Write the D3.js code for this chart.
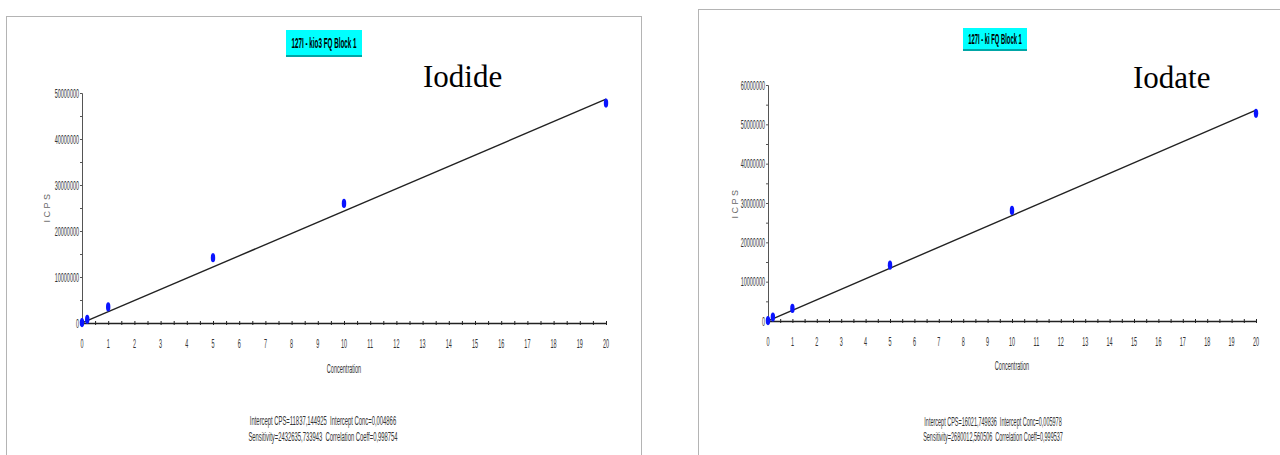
<!DOCTYPE html>
<html>
<head>
<meta charset="utf-8">
<script src="https://cdn.jsdelivr.net/npm/d3@7/dist/d3.min.js"></script>
<style>
  html, body { margin: 0; padding: 0; background: #fff; }
  svg { display: block; }
  text { white-space: pre; }
</style>
</head>
<body>
<svg id="chart" width="1280" height="455"></svg>
<script>
// Calibration data.
const concIodide = [0, 0.2, 1, 5, 10, 20];
const cpsIodide = [0.1e6, 0.8e6, 3.5e6, 14.2e6, 26.0e6, 47.8e6];
const fitIodide = [11837.144925, 2432635.733943]; // intercept, sensitivity

const concIodate = [0, 0.2, 1, 5, 10, 20];
const cpsIodate = [0.1e6, 1.0e6, 3.2e6, 14.2e6, 28.1e6, 52.8e6];
const fitIodate = [16021.749836, 2680012.560506];

const xTickLabels = d3.range(0, 21);
const yTicksIodide = [0, 10000000, 20000000, 30000000, 40000000, 50000000];
const yTicksIodate = [0, 10000000, 20000000, 30000000, 40000000, 50000000, 60000000];

const statsIodide = ["Intercept CPS=11837,144925  Intercept Conc=0,004866",
                     "Sensitivity=2432635,733943  Correlation Coeff=0,998754"];
const statsIodate = ["Intercept CPS=16021,749836  Intercept Conc=0,005978",
                     "Sensitivity=2680012,560506  Correlation Coeff=0,999537"];

const svg = d3.select("#chart");
const SANS = "'Liberation Sans', Arial, sans-serif";
const INK = "#333";

// squeezed text, the instrument software uses a very narrow font
function narrow(g, x, y, text, { size = 13, sx = 0.43, anchor = "middle", weight = 400, fill = INK } = {}) {
  return g.append("text")
    .attr("transform", `translate(${x},${y}) scale(${sx},1)`)
    .attr("text-anchor", anchor).attr("dominant-baseline", "central")
    .attr("font-family", SANS).attr("font-size", size).attr("font-weight", weight)
    .attr("fill", fill).text(text);
}

function panel(cfg) {
  const g = svg.append("g");
  g.append("rect")
    .attr("x", cfg.frame[0] + 0.5).attr("y", cfg.frame[1] + 0.5)
    .attr("width", cfg.frame[2]).attr("height", 500)
    .attr("fill", "#fff").attr("stroke", "#b4b4b4");

  // cyan title button
  const [bx, by, bw, bh] = cfg.box;
  g.append("rect").attr("x", bx).attr("y", by).attr("width", bw).attr("height", bh)
    .attr("fill", "#00ffff");
  g.append("rect").attr("x", bx).attr("y", by + bh - 2).attr("width", bw).attr("height", 2)
    .attr("fill", "#00a6a6");
  narrow(g, bx + bw / 2, by + bh / 2 - 1, cfg.title, { size: 15, sx: cfg.titleSx, weight: 700, fill: "#000" });

  g.append("text").attr("x", cfg.big[0]).attr("y", cfg.big[1])
    .attr("font-family", "'Liberation Serif', 'Times New Roman', serif")
    .attr("font-size", 31).attr("fill", "#000").text(cfg.label);

  const x = d3.scaleLinear().domain([0, 20]).range(cfg.xr);
  const y = d3.scaleLinear().domain([0, cfg.yTicks[cfg.yTicks.length - 1]]).range(cfg.yr);

  // y axis
  const gy = g.append("g").attr("transform", `translate(${cfg.xr[0]},0)`);
  gy.call(d3.axisLeft(y).tickValues(d3.range(0, y.domain()[1] + 1, 5000000))
    .tickSize(2).tickFormat(() => ""));
  gy.select(".domain").attr("stroke", "#555");
  gy.selectAll(".tick line").attr("stroke", "#555");
  cfg.yTicks.forEach(v => narrow(gy, -3, y(v), String(v), { anchor: "end", sx: 0.42 }));

  // x axis, minor ticks every 0.5
  const gx = g.append("g").attr("transform", `translate(0,${cfg.yr[0]})`);
  gx.call(d3.axisBottom(x).tickValues(d3.range(0, 20.01, 0.5)).tickSize(0).tickFormat(() => ""));
  gx.select(".domain").attr("stroke", "#222").attr("stroke-width", 1.6);
  gx.selectAll(".tick line").attr("y1", -2).attr("y2", 2).attr("stroke", "#222");
  xTickLabels.forEach(v => narrow(gx, x(v), 20, String(v), { sx: 0.42 }));

  narrow(g, cfg.xTitle[0], cfg.xTitle[1], "Concentration", { size: 12, sx: 0.46 });
  g.append("text")
    .attr("transform", `translate(${cfg.yTitle[0]},${cfg.yTitle[1]}) rotate(-90)`)
    .attr("text-anchor", "middle").attr("dominant-baseline", "central")
    .attr("font-family", SANS).attr("font-size", 9).attr("letter-spacing", 2.5)
    .attr("fill", "#666").text("ICPS");

  // regression line
  const [b0, b1] = cfg.fit;
  g.append("path")
    .attr("d", d3.line().x(d => x(d)).y(d => y(b0 + b1 * d))([0, 20]))
    .attr("stroke", "#222").attr("stroke-width", 1.4).attr("fill", "none");

  g.selectAll("ellipse.pt").data(cfg.conc).join("ellipse")
    .attr("cx", d => x(d)).attr("cy", (d, i) => y(cfg.cps[i]))
    .attr("rx", 2.2).attr("ry", 4.6).attr("fill", "#0a14ff");

  cfg.stats.forEach((s, i) => narrow(g, cfg.statsAt[0], cfg.statsAt[1] + i * 15.5, s,
    { size: 12.5, sx: cfg.statsSx, fill: "#333" }));
}

panel({
  frame: [6, 16, 635], box: [286, 30, 76, 27], title: "127I - kio3 FQ Block 1", titleSx: 0.42,
  big: [423, 87], label: "Iodide",
  xr: [82, 606], yr: [323, 93], yTicks: yTicksIodide,
  conc: concIodide, cps: cpsIodide, fit: fitIodide,
  xTitle: [344, 369], yTitle: [47, 207],
  stats: statsIodide, statsAt: [323, 421], statsSx: 0.47
});

panel({
  frame: [698, 9, 600], box: [963, 28, 64, 23], title: "127I - ki FQ Block 1", titleSx: 0.39,
  big: [1133, 88], label: "Iodate",
  xr: [768, 1256], yr: [321, 85], yTicks: yTicksIodate,
  conc: concIodate, cps: cpsIodate, fit: fitIodate,
  xTitle: [1012, 366], yTitle: [735, 203],
  stats: statsIodate, statsAt: [993, 421], statsSx: 0.44
});
</script>
</body>
</html>
